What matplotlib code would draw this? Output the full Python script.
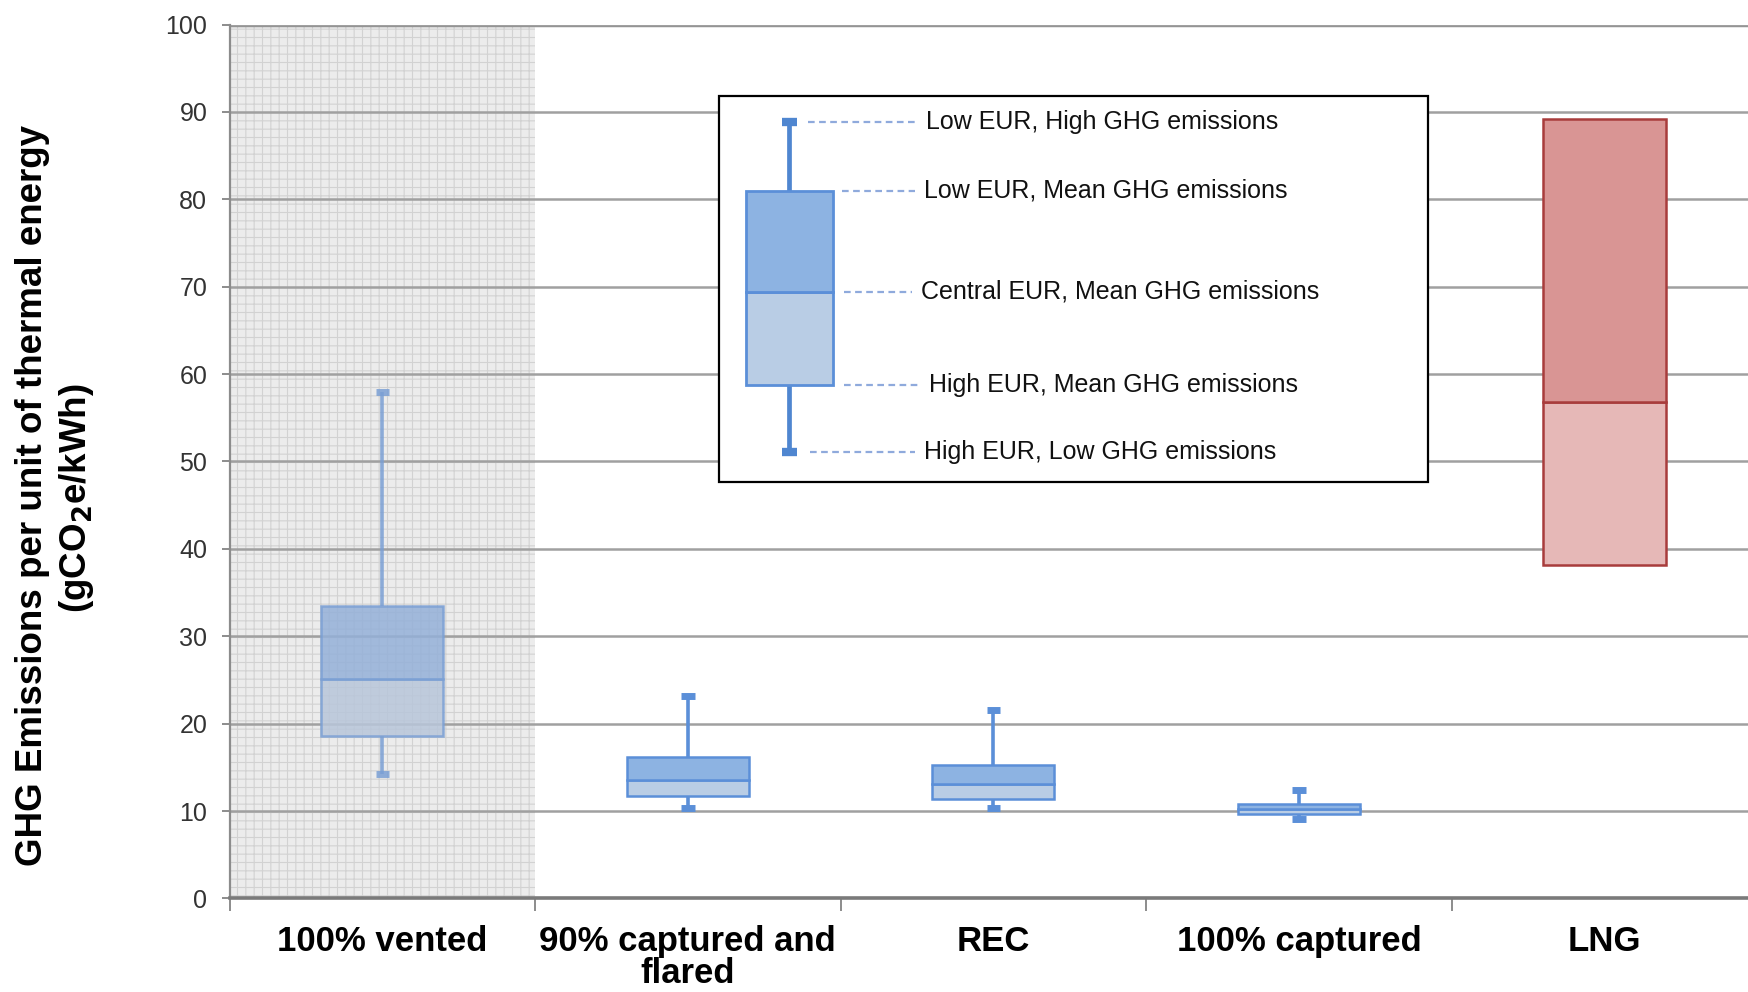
import matplotlib
matplotlib.use("Agg")
import matplotlib.pyplot as plt
from matplotlib.patches import Rectangle

plt.rcParams['font.family'] = ['Liberation Sans', 'DejaVu Sans']
plt.rcParams['hatch.linewidth'] = 0.8

# Data (gCO2e/kWh)
categories = ["100% vented", "90% captured and\nflared", "REC", "100% captured", "LNG"]
whisker_high = [58.0, 23.2, 21.6, 12.4, None]
box_high = [33.5, 16.2, 15.3, 10.8, 89.2]
central = [25.1, 13.6, 13.1, 10.2, 56.8]
box_low = [18.6, 11.7, 11.4, 9.7, 38.1]
whisker_low = [14.2, 10.3, 10.3, 9.1, None]

# Explanatory key sample values
key_values = [88.9, 81.0, 69.4, 58.8, 51.1]
key_labels = ["Low EUR, High GHG emissions", "Low EUR, Mean GHG emissions",
              "Central EUR, Mean GHG emissions", "High EUR, Mean GHG emissions",
              "High EUR, Low GHG emissions"]

blue_edge = '#5b8fd8'
blue_dark = '#8db3e2'
blue_light = '#b9cde5'
red_edge = '#a83c3c'
red_dark = '#d99594'
red_light = '#e6b8b7'

fig = plt.figure(figsize=(17.48, 9.92), dpi=100)
ax = fig.add_axes([0.1313, 0.0943, 0.874, 0.881])
ax.set_xlim(-0.5, 4.5)
ax.set_ylim(0, 100)

# shaded "vented" region
ax.axvspan(-0.5, 0.5, facecolor='#ececec', edgecolor='#d2d2d2', hatch='++', lw=0, zorder=0)

# gridlines
ax.set_yticks(range(0, 101, 10))
ax.yaxis.grid(True, color='#a0a0a0', lw=1.8, zorder=1)
ax.axhline(100, color='#707070', lw=2.4, zorder=1)

w = 0.4
for i in range(len(categories)):
    if categories[i] == "LNG":
        ec, cd, cl, alpha = red_edge, red_dark, red_light, 1.0
    elif i == 0:
        ec, cd, cl, alpha = '#7a9fd4', '#94b0d8', '#b8c6da', 0.85
    else:
        ec, cd, cl, alpha = blue_edge, blue_dark, blue_light, 1.0
    if whisker_high[i] is not None:
        ax.vlines(i, box_high[i], whisker_high[i], color=ec, lw=2.6, alpha=alpha, zorder=2)
        ax.vlines(i, whisker_low[i], box_low[i], color=ec, lw=2.6, alpha=alpha, zorder=2)
        ax.hlines([whisker_high[i], whisker_low[i]], i - 0.022, i + 0.022, color=ec, lw=5,
                  alpha=alpha, zorder=2)
    ax.bar(i, central[i] - box_low[i], bottom=box_low[i], width=w, color=cl, alpha=alpha,
           edgecolor=ec, lw=1.8, zorder=3)
    ax.bar(i, box_high[i] - central[i], bottom=central[i], width=w, color=cd, alpha=alpha,
           edgecolor=ec, lw=1.8, zorder=3)

# explanatory key
ax.add_patch(Rectangle((1.102, 47.6), 2.321, 44.2, facecolor='white', edgecolor='black',
                       lw=1.6, zorder=4))
kx = 1.332
ax.vlines(kx, key_values[1], key_values[0], color='#4f86d0', lw=3.4, zorder=5)
ax.vlines(kx, key_values[4], key_values[3], color='#4f86d0', lw=3.4, zorder=5)
ax.hlines([key_values[0], key_values[4]], kx - 0.025, kx + 0.025, color='#4f86d0', lw=6, zorder=5)
ax.bar(kx, key_values[2] - key_values[3], bottom=key_values[3], width=0.285, color=blue_light,
       edgecolor=blue_edge, lw=2, zorder=5)
ax.bar(kx, key_values[1] - key_values[2], bottom=key_values[2], width=0.285, color=blue_dark,
       edgecolor=blue_edge, lw=2, zorder=5)
line_starts = [1.394, 1.504, 1.51, 1.51, 1.401]
text_x = [1.781, 1.774, 1.763, 1.788, 1.774]
for v, lab, x0, tx in zip(key_values, key_labels, line_starts, text_x):
    ax.hlines(v, x0, tx - 0.03, color='#8faadc', lw=1.6, linestyles=(0, (3, 2)), zorder=5)
    ax.text(tx, v, lab, fontsize=18, va='center', ha='left', color='#111111', zorder=6)

# axes styling
for s in ['top', 'right']:
    ax.spines[s].set_visible(False)
ax.spines['left'].set_color('#8c8c8c')
ax.spines['left'].set_linewidth(1.6)
ax.spines['bottom'].set_color('#7a7a7a')
ax.spines['bottom'].set_linewidth(2.6)
ax.spines['left'].set_zorder(2)

ax.set_xticks(range(len(categories)))
ax.set_xticklabels(categories, fontsize=25, fontweight='bold', linespacing=0.98)
ax.set_xticks([i - 0.5 for i in range(len(categories) + 1)], minor=True)
ax.tick_params(axis='x', which='major', length=0, pad=19)
ax.tick_params(axis='x', which='minor', length=9, width=1.4, color='#8c8c8c')
ax.tick_params(axis='y', length=6, width=1.4, color='#8c8c8c', labelsize=18,
               labelcolor='#333333', pad=10)

fig.text(0.0185, 0.501, "GHG Emissions per unit of thermal energy", rotation=90,
         fontsize=26.5, fontweight='bold', ha='center', va='center')
fig.text(0.0435, 0.498, "(gCO$_\\mathbf{2}$e/kWh)", rotation=90,
         fontsize=26.5, fontweight='bold', ha='center', va='center')

fig.savefig("out.png", dpi=100)
